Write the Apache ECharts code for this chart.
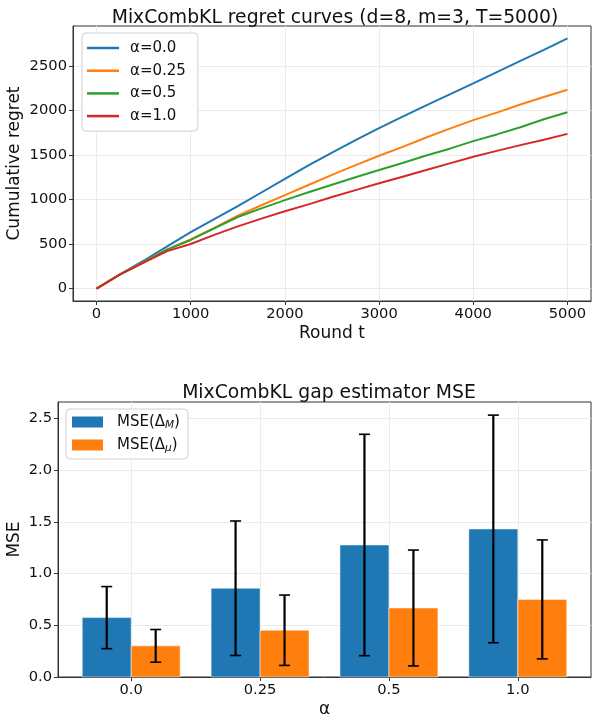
<!DOCTYPE html>
<html>
<head>
<meta charset="utf-8">
<script src="https://cdn.jsdelivr.net/npm/echarts@6/dist/echarts.min.js"></script>
<style>
  html, body { margin: 0; padding: 0; background: #fff; }
  #main { width: 592px; height: 717px; }
</style>
</head>
<body>
<div id="main"></div>
<script>
// regret curves
var rounds = [0, 250, 500, 750, 1000, 1250, 1500, 1750, 2000, 2250, 2500, 2750, 3000, 3250, 3500, 3750, 4000, 4250, 4500, 4750, 5000];
var regretA00 = [0, 160, 312, 474, 632, 780, 925, 1078, 1232, 1382, 1526, 1665, 1800, 1930, 2055, 2180, 2303, 2430, 2555, 2680, 2807];
var regretA025 = [0, 158, 295, 440, 552, 682, 817, 935, 1048, 1162, 1276, 1385, 1490, 1590, 1695, 1795, 1890, 1975, 2065, 2150, 2232];
var regretA05 = [0, 158, 293, 436, 545, 676, 803, 900, 992, 1080, 1165, 1250, 1330, 1410, 1493, 1570, 1655, 1730, 1810, 1900, 1979];
var regretA10 = [0, 158, 290, 420, 500, 602, 698, 785, 868, 945, 1027, 1105, 1181, 1255, 1330, 1405, 1480, 1545, 1610, 1670, 1736];
var curveNames = ['α=0.0', 'α=0.25', 'α=0.5', 'α=1.0'];
var xTicks = [0, 1000, 2000, 3000, 4000, 5000];
var yTicks = [0, 500, 1000, 1500, 2000, 2500];

// gap estimator MSE
var alphaLabels = ['0.0', '0.25', '0.5', '1.0'];
var mseM = [0.574, 0.858, 1.276, 1.431];
var mseMErr = [0.30, 0.65, 1.07, 1.10];
var mseMu = [0.301, 0.452, 0.667, 0.750];
var mseMuErr = [0.158, 0.34, 0.56, 0.575];
var mseTicks = [0, 0.5, 1.0, 1.5, 2.0, 2.5];

var colors = ['#1f77b4', '#ff7f0e', '#2ca02c', '#d62728'];
var font = 'DejaVu Sans';
var barW = 0.38;
var tickFont = 14.7;

function pairs(xs, ys) {
    return xs.map(function (x, i) { return [x, ys[i]]; });
}

function barRender(offset, color) {
    return function (params, api) {
        var x = api.value(0) + offset;
        var p0 = api.coord([x - barW / 2, api.value(1)]);
        var p1 = api.coord([x + barW / 2, 0]);
        return {
            type: 'rect',
            shape: { x: p0[0], y: p0[1], width: p1[0] - p0[0], height: p1[1] - p0[1] },
            style: { fill: color, stroke: 'rgba(255,255,255,0.5)', lineWidth: 1 }
        };
    };
}

function errRender(offset) {
    return function (params, api) {
        var x = api.value(0) + offset;
        var v = api.value(1), e = api.value(2);
        var top = api.coord([x, v + e]);
        var bot = api.coord([x, v - e]);
        var cap = 5.5;
        return {
            type: 'group',
            children: [
                { type: 'line', shape: { x1: top[0], y1: top[1], x2: bot[0], y2: bot[1] }, style: { stroke: '#000', lineWidth: 2.2 } },
                { type: 'line', shape: { x1: top[0] - cap, y1: top[1], x2: top[0] + cap, y2: top[1] }, style: { stroke: '#000', lineWidth: 1.6 } },
                { type: 'line', shape: { x1: bot[0] - cap, y1: bot[1], x2: bot[0] + cap, y2: bot[1] }, style: { stroke: '#000', lineWidth: 1.6 } }
            ]
        };
    };
}

var chartDom = document.getElementById('main');
var myChart = echarts.init(chartDom, null, { renderer: 'canvas' });

function makeAxis(extra, ticks, fmt) {
    return Object.assign({
        type: 'value',
        nameLocation: 'middle',
        nameMoveOverlap: false,
        nameTextStyle: { fontFamily: font, fontSize: 17, color: '#111' },
        axisLine: { show: true, onZero: false, lineStyle: { color: '#333', width: 1 } },
        axisTick: { show: true, length: 4, lineStyle: { color: '#333' }, customValues: ticks },
        axisLabel: { customValues: ticks, fontFamily: font, fontSize: tickFont, color: '#111', margin: 6, formatter: fmt },
        splitLine: { show: true, lineStyle: { color: '#ebebeb', width: 1 } }
    }, extra);
}

var option = {
    animation: false,
    backgroundColor: '#fff',
    textStyle: { fontFamily: font },
    title: [
        { text: 'MixCombKL regret curves (d=8, m=3, T=5000)', left: 330, top: 4, textAlign: 'center',
          textStyle: { fontFamily: font, fontSize: 18.8, fontWeight: 'normal', color: '#111' } },
        { text: 'MixCombKL gap estimator MSE', left: 324, top: 379, textAlign: 'center',
          textStyle: { fontFamily: font, fontSize: 18.8, fontWeight: 'normal', color: '#111' } }
    ],
    grid: [
        { left: 73, right: 1, top: 26, height: 275, show: true, borderColor: '#333', borderWidth: 1, outerBoundsMode: 'none', containLabel: false },
        { left: 58, right: 1, top: 402, height: 275, show: true, borderColor: '#333', borderWidth: 1, outerBoundsMode: 'none', containLabel: false }
    ],
    legend: [
        {
            orient: 'vertical', left: 82, top: 33,
            data: curveNames,
            icon: 'rect',
            itemWidth: 32, itemHeight: 2.5, itemGap: 4.7,
            padding: [6, 12, 6, 5],
            backgroundColor: '#fff', borderColor: '#d0d0d0', borderWidth: 1, borderRadius: 4,
            textStyle: { fontFamily: font, fontSize: 15, color: '#111', lineHeight: 18, padding: [0, 0, 0, 6] }
        },
        {
            orient: 'vertical', left: 66, top: 409,
            data: ['dM', 'dmu'],
            icon: 'rect',
            itemWidth: 31, itemHeight: 11, itemGap: 6,
            padding: [5, 8, 5, 6],
            backgroundColor: '#fff', borderColor: '#d0d0d0', borderWidth: 1, borderRadius: 4,
            formatter: function (name) {
                return name === 'dM' ? '{a|MSE(Δ}{s|M}{a|)}' : '{a|MSE(Δ}{s|μ}{a|)}';
            },
            textStyle: {
                fontFamily: font, fontSize: 15, color: '#111', padding: [0, 0, 0, 9],
                rich: {
                    a: { fontFamily: font, fontSize: 15, color: '#111', lineHeight: 18 },
                    s: { fontFamily: font, fontSize: 10.5, fontStyle: 'italic', color: '#111', lineHeight: 18, verticalAlign: 'bottom', padding: [6, 0, 0, 0] }
                }
            }
        }
    ],
    xAxis: [
        makeAxis({ gridIndex: 0, min: -250, max: 5250, name: 'Round t', nameGap: 24 }, xTicks,
            function (v) { return String(v); }),
        makeAxis({ gridIndex: 1, min: -0.568, max: 3.568, name: 'α', nameGap: 24 }, [0, 1, 2, 3],
            function (v) { return alphaLabels[Math.round(v)]; })
    ],
    yAxis: [
        makeAxis({ gridIndex: 0, min: -140, max: 2947, name: 'Cumulative regret', nameGap: 50 }, yTicks,
            function (v) { return String(v); }),
        makeAxis({ gridIndex: 1, min: 0, max: 2.658, name: 'MSE', nameGap: 35 }, mseTicks,
            function (v) { return v.toFixed(1); })
    ],
    series: [
        { name: curveNames[0], type: 'line', xAxisIndex: 0, yAxisIndex: 0, data: pairs(rounds, regretA00),
          showSymbol: false, symbol: 'none', lineStyle: { width: 2, color: colors[0] }, itemStyle: { color: colors[0] } },
        { name: curveNames[1], type: 'line', xAxisIndex: 0, yAxisIndex: 0, data: pairs(rounds, regretA025),
          showSymbol: false, symbol: 'none', lineStyle: { width: 2, color: colors[1] }, itemStyle: { color: colors[1] } },
        { name: curveNames[2], type: 'line', xAxisIndex: 0, yAxisIndex: 0, data: pairs(rounds, regretA05),
          showSymbol: false, symbol: 'none', lineStyle: { width: 2, color: colors[2] }, itemStyle: { color: colors[2] } },
        { name: curveNames[3], type: 'line', xAxisIndex: 0, yAxisIndex: 0, data: pairs(rounds, regretA10),
          showSymbol: false, symbol: 'none', lineStyle: { width: 2, color: colors[3] }, itemStyle: { color: colors[3] } },
        { name: 'dM', type: 'custom', xAxisIndex: 1, yAxisIndex: 1, renderItem: barRender(-barW / 2, colors[0]),
          itemStyle: { color: colors[0] }, data: mseM.map(function (v, i) { return [i, v]; }), encode: { x: 0, y: 1 } },
        { name: 'dmu', type: 'custom', xAxisIndex: 1, yAxisIndex: 1, renderItem: barRender(barW / 2, colors[1]),
          itemStyle: { color: colors[1] }, data: mseMu.map(function (v, i) { return [i, v]; }), encode: { x: 0, y: 1 } },
        { name: 'errM', type: 'custom', xAxisIndex: 1, yAxisIndex: 1, renderItem: errRender(-barW / 2), z: 5,
          data: mseM.map(function (v, i) { return [i, v, mseMErr[i]]; }), encode: { x: 0, y: 1 } },
        { name: 'errMu', type: 'custom', xAxisIndex: 1, yAxisIndex: 1, renderItem: errRender(barW / 2), z: 5,
          data: mseMu.map(function (v, i) { return [i, v, mseMuErr[i]]; }), encode: { x: 0, y: 1 } }
    ]
};
option && myChart.setOption(option);
</script>
</body>
</html>
